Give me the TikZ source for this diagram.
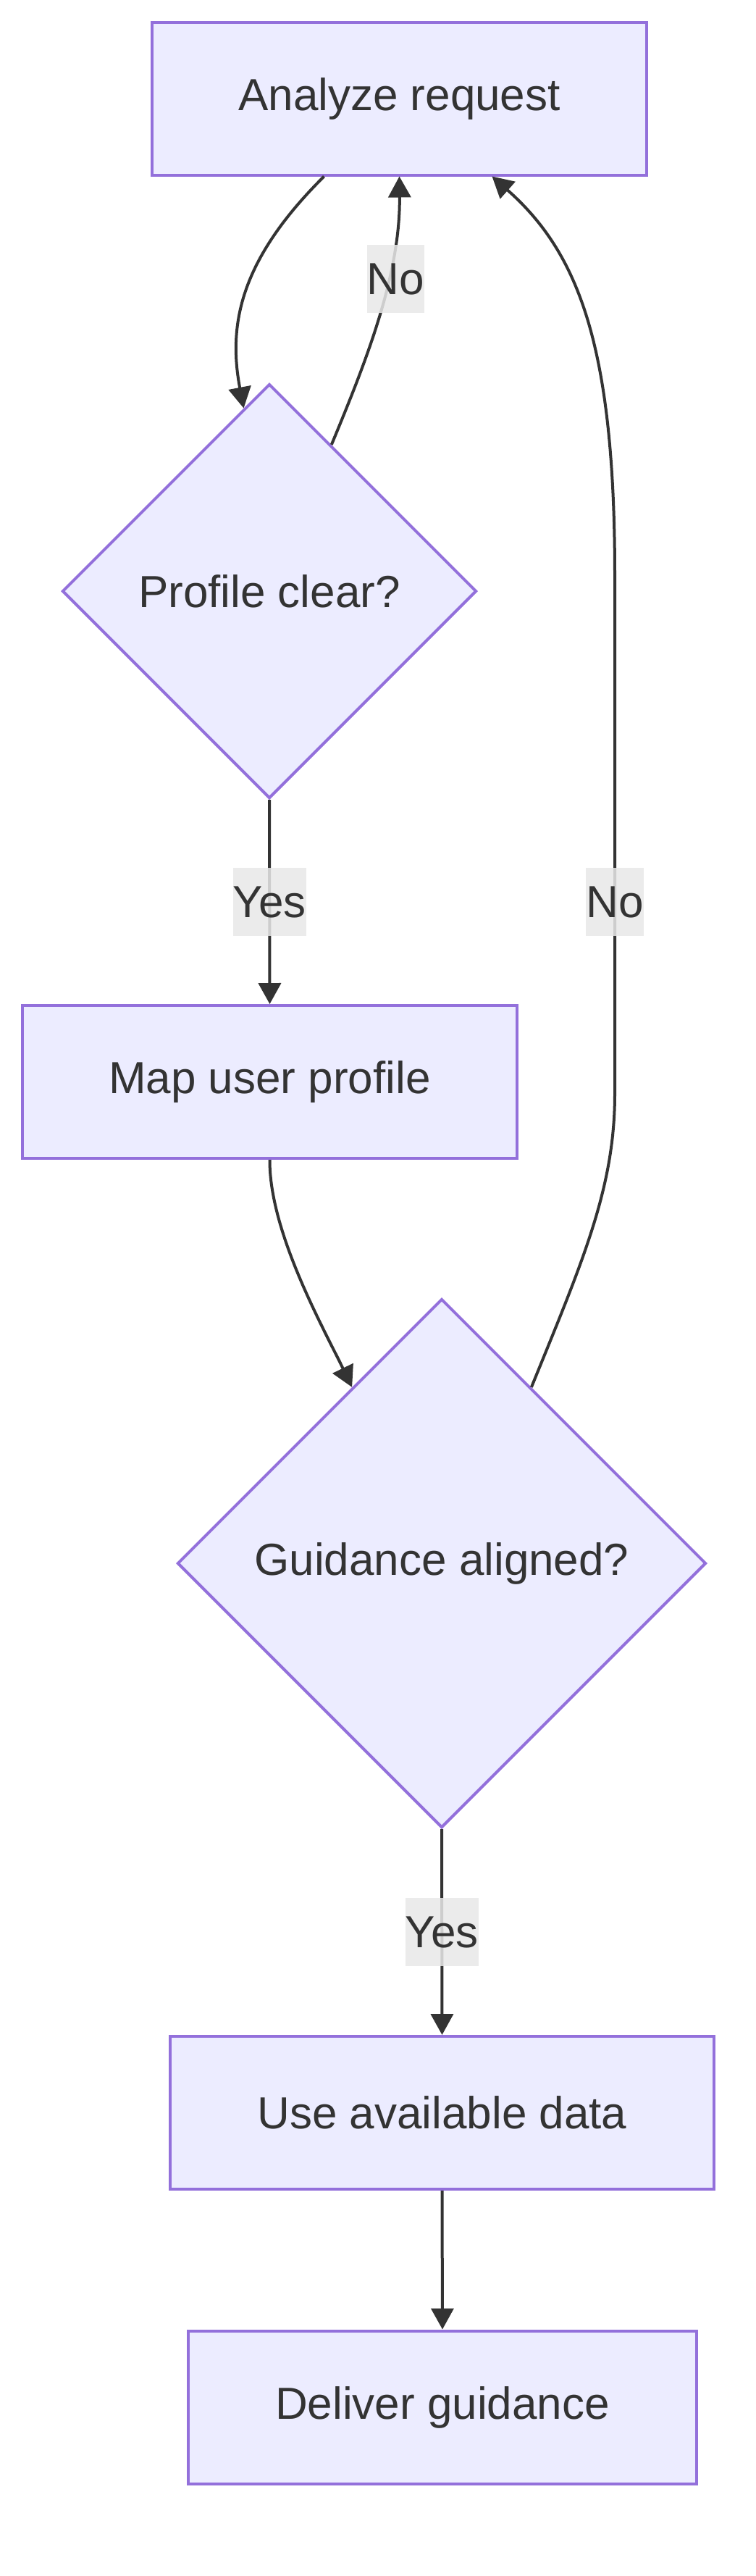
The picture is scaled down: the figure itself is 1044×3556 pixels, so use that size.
\documentclass[tikz,border=0pt]{standalone}
\usepackage{fontspec}
\setmainfont{Liberation Sans}
\usetikzlibrary{shapes.geometric, arrows.meta}

\definecolor{nodefill}{HTML}{ECECFF}
\definecolor{nodeline}{HTML}{9370DB}
\definecolor{ink}{HTML}{333333}
\definecolor{lblbg}{HTML}{E8E8E8}

\begin{document}
\begin{tikzpicture}[
	x=0.5pt, y=-0.5pt,
	font=\fontsize{31pt}{37pt}\selectfont,
	box/.style={rectangle, draw=nodeline, line width=2pt, fill=nodefill, text=ink, minimum height=105.5pt, align=center},
	decision/.style={diamond, aspect=1, draw=nodeline, line width=2pt, fill=nodefill, text=ink, inner sep=0pt},
	flow/.style={draw=ink, line width=2pt, -{Triangle[length=14.5pt, width=15.5pt]}},
	lbl/.style={fill=lblbg, fill opacity=0.85, text opacity=1, text=ink, inner xsep=0pt, inner ysep=0pt, minimum height=47pt},
]
	\useasboundingbox (0,0) rectangle (1044,3556);

	% Analyze request (top)
	\node[box, minimum width=341.5pt] (ana) at (551.5,136) {Analyze request};

	% Profile decision
	\node[decision, minimum width=286pt, minimum height=286pt] (prof) at (372,816) {Profile clear?};

	% Map user profile
	\node[box, minimum width=341.5pt] (map) at (372.5,1493.5) {Map user profile};

	% Guidance decision
	\node[decision, minimum width=365pt, minimum height=365pt] (guid) at (610,2158) {Guidance aligned?};

	% Use data / deliver (bottom)
	\node[box, minimum width=375.5pt] (use) at (610.5,2916.5) {Use available data};
	\node[box, minimum width=351pt] (deliv) at (611,3323) {Deliver guidance};

	% Analyze -> Profile
	\draw[flow] ([xshift=-52pt]ana.south) .. controls (330,360) and (315,450) .. (prof.98);

	% Profile -> Analyze (No)
	\draw[flow] (prof.67) .. controls (505,500) and (553,380) .. node[lbl, pos=0.64, xshift=5pt] {No} (ana.south);

	% Profile -> Map (Yes)
	\draw[flow] (prof.south) -- node[lbl] {Yes} (map.north);

	% Map -> Guidance
	\draw[flow] (map.south) .. controls (372,1700) and (445,1830) .. (guid.117);

	% Guidance -> Analyze (No)
	\draw[flow] (guid.63) .. controls (805,1740) and (849,1640) .. (849,1510)
		-- node[lbl] {No} (849,980) -- (849,795)
		.. controls (849,480) and (800,350) .. ([xshift=64pt]ana.south);

	% Guidance -> Use (Yes)
	\draw[flow] (guid.south) -- node[lbl] {Yes} (use.north);

	% Use -> Deliver
	\draw[flow] (use.south) -- (deliv.north);

\end{tikzpicture}
\end{document}
